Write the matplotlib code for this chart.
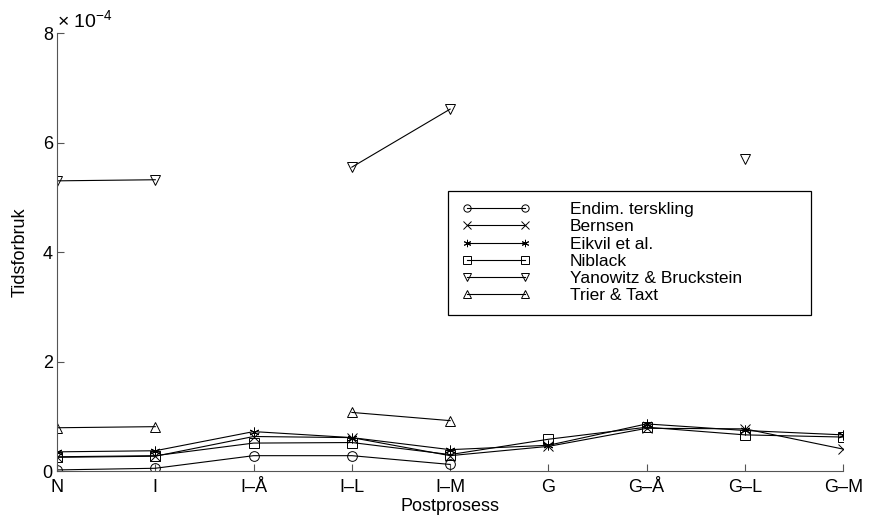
import numpy as np
import matplotlib.pyplot as plt
from matplotlib.patches import Rectangle

plt.rcParams['font.family'] = ['Liberation Sans', 'DejaVu Sans']
plt.rcParams['mathtext.fontset'] = 'custom'
plt.rcParams['mathtext.rm'] = 'Liberation Sans'
plt.rcParams['mathtext.default'] = 'regular'

# Categories on the x axis
categories = ['N', 'I', 'I–Å', 'I–L', 'I–M', 'G', 'G–Å', 'G–L', 'G–M']

# Time use, in units of 1e-4 (NaN = not measured)
nan = np.nan
endim = [0.02, 0.05, 0.28, 0.28, 0.12, nan, nan, nan, nan]
bernsen = [0.25, 0.27, 0.63, 0.61, 0.28, 0.45, 0.78, 0.77, 0.40]
eikvil = [0.35, 0.37, 0.72, 0.61, 0.39, 0.47, 0.86, 0.74, 0.66]
niblack = [0.26, 0.28, 0.51, 0.52, 0.30, 0.58, 0.80, 0.66, 0.62]
yanowitz = [5.30, 5.32, nan, 5.55, 6.61, nan, nan, 5.70, nan]
trier = [0.79, 0.81, nan, 1.07, 0.92, nan, nan, nan, nan]

series = [
    ('Endim. terskling', endim, 'o'),
    ('Bernsen', bernsen, 'x'),
    ('Eikvil et al.', eikvil, (6, 2, 0)),
    ('Niblack', niblack, 's'),
    ('Yanowitz & Bruckstein', yanowitz, 'v'),
    ('Trier & Taxt', trier, '^'),
]

fig = plt.figure(figsize=(8.72, 5.16), dpi=100)
ax = fig.add_axes([0.0654, 0.0872, 0.9016, 0.8488])

x = np.arange(len(categories))
for name, vals, mk in series:
    y = np.array(vals) * 1e-4
    ax.plot(x, y, color='black', linewidth=0.8, marker=mk, markersize=7,
            markerfacecolor='none', markeredgecolor='black',
            markeredgewidth=0.7, label=name)

ax.set_xlim(0, len(categories) - 1)
ax.set_ylim(0, 8e-4)
ax.set_xticks(x)
ax.set_xticklabels(categories)
ax.set_yticks(np.arange(0, 9, 2) * 1e-4)
ax.set_yticklabels([str(v) for v in range(0, 9, 2)])
ax.tick_params(direction='in', length=5, labelsize=13, color='#555555')
ax.tick_params(axis='x', pad=6)
ax.tick_params(axis='y', pad=3)

for side in ['top', 'right']:
    ax.spines[side].set_visible(False)
for side in ['left', 'bottom']:
    ax.spines[side].set_color('#555555')

ax.text(0.0, 1.005, r'× 10$^{-4}$', transform=ax.transAxes,
        fontsize=14, ha='left', va='bottom')

ax.set_xlabel('Postprosess', fontsize=13, labelpad=1)
ax.set_ylabel('Tidsforbruk', fontsize=13, labelpad=10)

# legend box, MATLAB style
fig.patches.append(Rectangle((0.514, 0.3895), 0.416, 0.2405,
                             transform=fig.transFigure, fill=False,
                             edgecolor='black', linewidth=0.9))
leg = ax.legend(loc='upper left', bbox_to_anchor=(0.516, 0.632),
                bbox_transform=fig.transFigure, numpoints=2,
                fontsize=12.5, frameon=False, markerscale=0.75,
                handlelength=3.9, borderpad=0.7, labelspacing=0.12,
                handletextpad=2.3, borderaxespad=0)

fig.savefig('out.png', dpi=100)
